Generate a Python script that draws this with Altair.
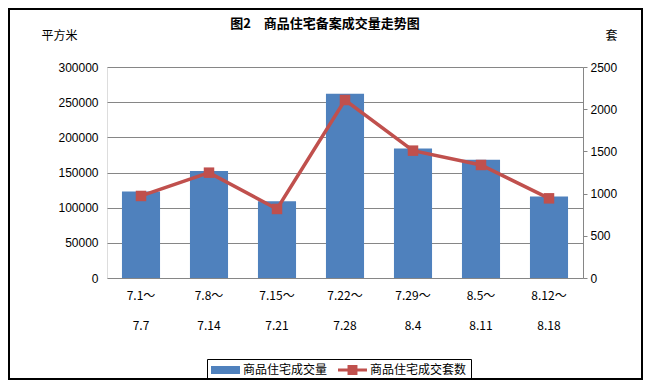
import altair as alt
import pandas as pd

periods_start = ["7.1～", "7.8～", "7.15～", "7.22～", "7.29～", "8.5～", "8.12～"]
periods_end = ["7.7", "7.14", "7.21", "7.28", "8.4", "8.11", "8.18"]
area_values = [123000, 152000, 109000, 262000, 184000, 168000, 116000]
unit_values = [972, 1248, 818, 2109, 1509, 1339, 944]

n_area = "商品住宅成交量"
n_units = "商品住宅成交套数"
title_text = "图2　商品住宅备案成交量走势图"

labels = [f"{a}|{b}" for a, b in zip(periods_start, periods_end)]
df = pd.DataFrame({
    "period": labels * 2,
    "series": [n_area] * 7 + [n_units] * 7,
    "value": area_values + unit_values,
})

BLUE = "#4F81BD"
RED = "#C0504D"
GRID = "#868686"
CJK = "Noto Sans CJK SC"
NUM = "Liberation Sans"

W, H = 476, 211
PL, PT, PR, PB = 99, 59, 60, 102

bar_path = "M-1,-0.57H3.14V0.57H-1Z"
line_path = "M-1,-0.21H3.14V0.21H-1Z M0.36,-0.71H1.78V0.71H0.36Z"

color_scale = alt.Scale(domain=[n_area, n_units], range=[BLUE, RED])
legend = alt.Legend(
    orient="none", legendX=100, legendY=292, direction="horizontal",
    title=None, strokeColor="black", padding=4, symbolSize=196,
    labelFont=CJK, labelFontSize=12, labelColor="black", labelOffset=18,
    columnPadding=10, symbolStrokeWidth=0,
    symbolType={"expr": f"datum.value === '{n_area}' ? '{bar_path}' : '{line_path}'"},
)

x_enc = alt.X(
    "period:N", sort=labels, title=None,
    scale=alt.Scale(paddingInner=0.44, paddingOuter=0.22),
    axis=alt.Axis(labelExpr="split(datum.label, '|')", labelAngle=0,
                  domain=False, ticks=False, labelPadding=12,
                  labelLineHeight=30, labelFont=CJK, labelFontSize=12,
                  labelColor="black"),
)

base = alt.Chart(df)

bars = base.transform_filter(alt.datum.series == n_area).mark_bar(color=BLUE).encode(
    x=x_enc,
    y=alt.Y("value:Q", scale=alt.Scale(domain=[0, 300000], nice=False),
            axis=alt.Axis(values=[0, 50000, 100000, 150000, 200000, 250000, 300000],
                          format="d", domain=False, ticks=False, grid=True,
                          gridColor=GRID, gridWidth=1, labelPadding=9,
                          labelFont=NUM, labelFontSize=12, labelColor="black",
                          title="平方米", titleAngle=0, titleAlign="left",
                          titleBaseline="middle", titleX=-66, titleY=-32,
                          titleFont=CJK, titleFontSize=12, titleFontWeight="normal",
                          titleColor="black")),
    color=alt.Color("series:N", scale=color_scale, legend=legend),
)

y_right = alt.Y("value:Q", scale=alt.Scale(domain=[0, 2500], nice=False),
                axis=alt.Axis(orient="right", values=[0, 500, 1000, 1500, 2000, 2500],
                              format="d", grid=False, domain=True, domainColor=GRID,
                              ticks=True, tickColor=GRID, tickSize=4, labelPadding=3,
                              labelFont=NUM, labelFontSize=12, labelColor="black",
                              title="套", titleAngle=0, titleAlign="center",
                              titleBaseline="middle", titleX=28, titleY=-32,
                              titleFont=CJK, titleFontSize=12, titleFontWeight="normal",
                              titleColor="black"))

units = base.transform_filter(alt.datum.series == n_units)
line = units.mark_line(color=RED, strokeWidth=3.5).encode(
    x=alt.X("period:N", sort=labels), y=y_right)
points = units.mark_point(shape="square", filled=True, size=110, opacity=1).encode(
    x=alt.X("period:N", sort=labels), y=y_right,
    color=alt.Color("series:N", scale=color_scale, legend=legend))

frame = alt.Chart(alt.Data(values=[{"a": 1}])).mark_rect(
    fill=None, stroke="black", strokeWidth=2).encode(
    x=alt.value(-PL + 1), x2=alt.value(W + PR - 1),
    y=alt.value(-PT + 1), y2=alt.value(H + PB - 1))

chart = alt.layer(bars, alt.layer(line, points), frame).resolve_scale(
    y="independent").properties(
    width=W, height=H,
    padding={"left": PL, "top": PT, "right": PR, "bottom": PB},
    autosize=alt.AutoSizeParams(type="none"),
    title=alt.TitleParams(title_text, font=CJK, fontSize=13, fontWeight="bold",
                          color="black", anchor="middle", frame="group", dx=-20,
                          offset=-23),
).configure_view(stroke=None).configure(background="white")

chart.save("out.html", embed_options={"renderer": "svg", "actions": False})
